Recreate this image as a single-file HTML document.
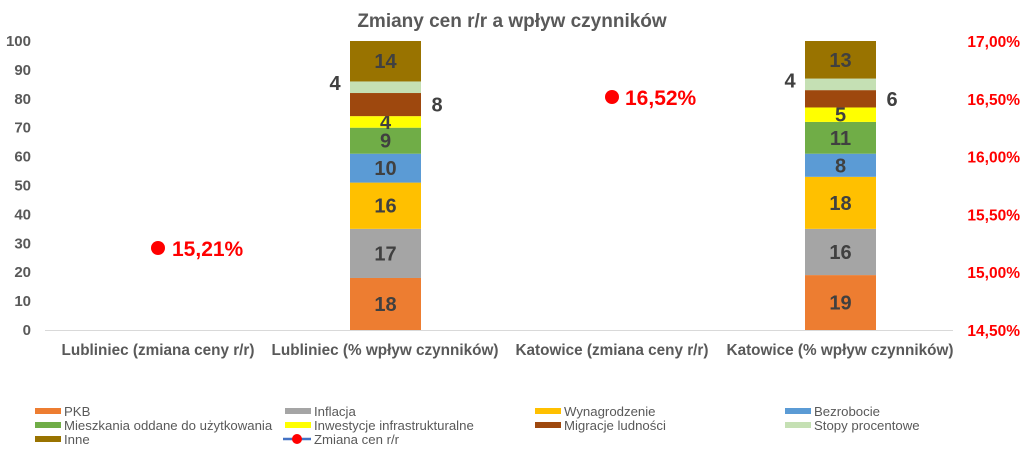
<!DOCTYPE html>
<html><head><meta charset="utf-8"><style>
body{margin:0;background:#fff}
svg{display:block;font-family:"Liberation Sans",sans-serif}
</style></head><body>
<svg id="c" width="1024" height="458" xmlns="http://www.w3.org/2000/svg">
<rect width="1024" height="458" fill="#fff"/>
<text x="512" y="27" text-anchor="middle" font-size="19" font-weight="bold" fill="#595959">Zmiany cen r/r a wpływ czynników</text>
</svg>
<script>
const s=document.getElementById('c');let h='';
const Y=v=>330-2.89*v;
for(let v=0;v<=100;v+=10){h+=`<text x="31" y="${Y(v)+5}" text-anchor="end" font-size="15" font-weight="bold" fill="#595959">${v}</text>`;}
const rl=['14,50%','15,00%','15,50%','16,00%','16,50%','17,00%'];
rl.forEach((t,i)=>{h+=`<text x="1020" y="${Y(i*20)+6}" text-anchor="end" font-size="15.5" font-weight="bold" fill="#FF0000">${t}</text>`;});
h+=`<line x1="45" y1="330.5" x2="953" y2="330.5" stroke="#d9d9d9"/>`;
const cols=['#ED7D31','#A5A5A5','#FFC000','#5B9BD5','#70AD47','#FFFF00','#9E480E','#C5E0B4','#997300'];
function bar(x,vals){let c=0;vals.forEach((v,i)=>{h+=`<rect x="${x}" y="${Y(c+v)}" width="71" height="${2.89*v}" fill="${cols[i]}"/>`;
 const cy=Y(c+v/2)+7;
 if(i==6){h+=`<text x="${x+87}" y="${cy}" text-anchor="middle" font-size="20" font-weight="bold" fill="#404040">${v}</text>`}
 else if(i==7){h+=`<text x="${x-15}" y="${cy-4}" text-anchor="middle" font-size="20" font-weight="bold" fill="#404040">${v}</text>`}
 else h+=`<text x="${x+35.5}" y="${cy}" text-anchor="middle" font-size="20" font-weight="bold" fill="#404040">${v}</text>`;
 c+=v;});}
bar(350,[18,17,16,10,9,4,8,4,14]);
bar(805,[19,16,18,8,11,5,6,4,13]);
h+=`<circle cx="158" cy="248" r="7" fill="#FF0000"/><text x="172" y="256" font-size="21" font-weight="bold" fill="#FF0000">15,21%</text>`;
h+=`<circle cx="612" cy="97" r="7" fill="#FF0000"/><text x="625" y="105" font-size="21" font-weight="bold" fill="#FF0000">16,52%</text>`;
[['Lubliniec (zmiana ceny r/r)',158],['Lubliniec (% wpływ czynników)',385],['Katowice (zmiana ceny r/r)',612],['Katowice (% wpływ czynników)',840]].forEach(([t,x])=>{h+=`<text x="${x}" y="355" text-anchor="middle" font-size="15.3" font-weight="bold" fill="#595959">${t}</text>`});
const L=[['PKB',0],['Inflacja',1],['Wynagrodzenie',2],['Bezrobocie',3],['Mieszkania oddane do użytkowania',4],['Inwestycje infrastrukturalne',5],['Migracje ludności',6],['Stopy procentowe',7],['Inne',8],['Zmiana cen r/r',-1]];
L.forEach(([t,ci],i)=>{const x=35+250*(i%4),y=411+14*Math.floor(i/4);
 if(ci<0){h+=`<line x1="${x-2}" y1="${y}" x2="${x+26}" y2="${y}" stroke="#4472C4" stroke-width="2.5"/><circle cx="${x+12}" cy="${y}" r="5" fill="#FF0000"/>`}
 else h+=`<rect x="${x}" y="${y-3}" width="26" height="6" fill="${cols[ci]}"/>`;
 h+=`<text x="${x+29}" y="${y+5}" font-size="13.2" fill="#595959">${t}</text>`;});
s.insertAdjacentHTML('beforeend',h);
</script>
</body></html>
